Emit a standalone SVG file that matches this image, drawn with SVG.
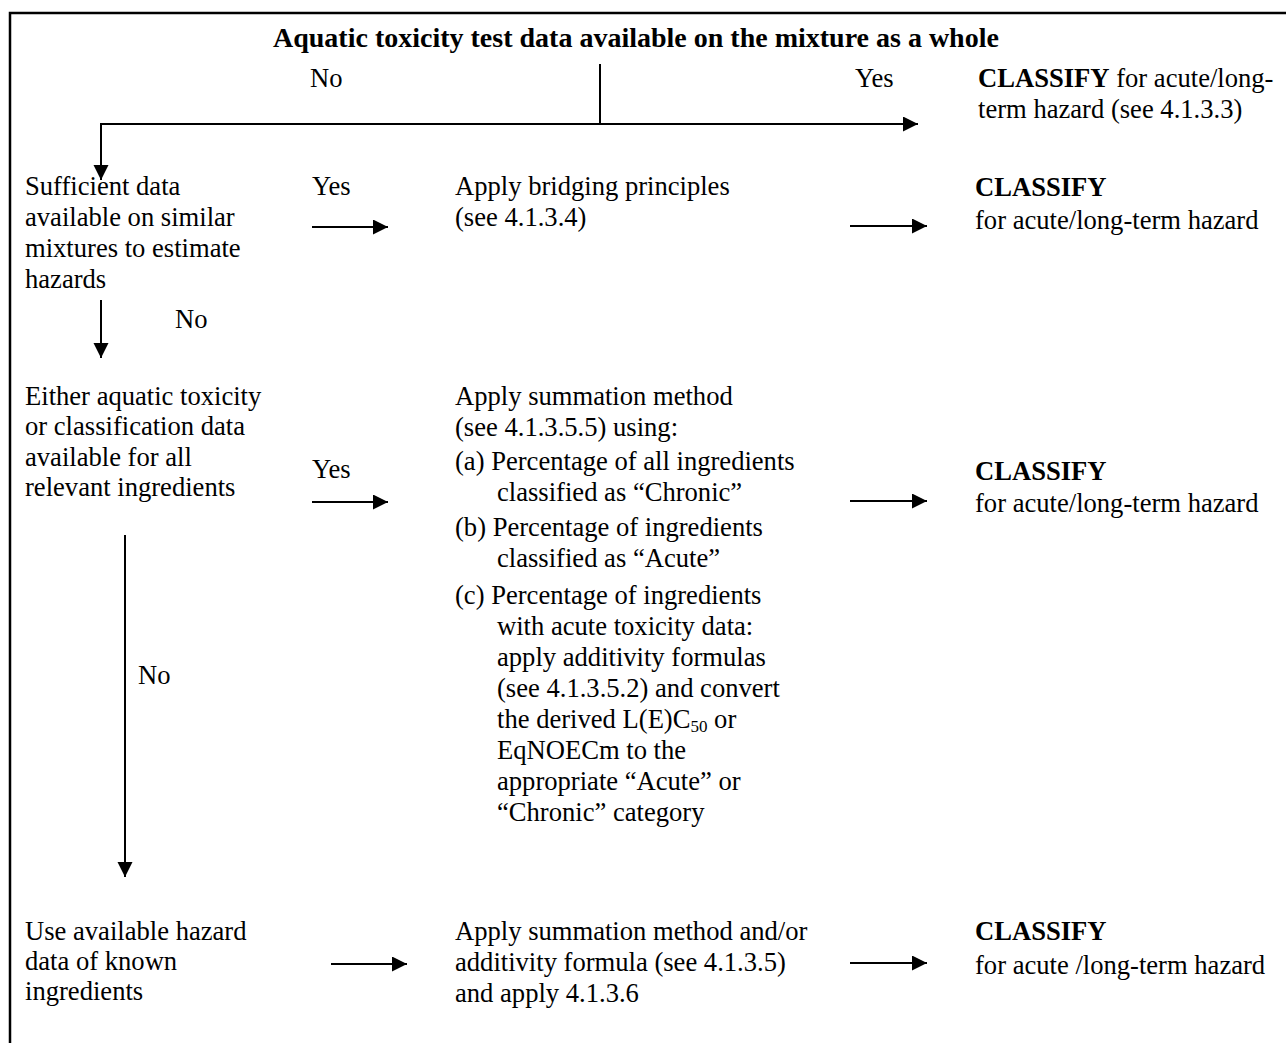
<svg xmlns="http://www.w3.org/2000/svg" width="1286" height="1043" viewBox="0 0 1286 1043">
<style>
text{font-family:"Liberation Serif","Times New Roman",serif;font-size:26.6px;fill:#000}
.b{font-weight:bold}
.t{font-size:28px;font-weight:bold}
.ln{stroke:#000;stroke-width:2;fill:none}
.sub{font-size:17px}
</style>
<defs>
<marker id="ah" markerWidth="16" markerHeight="16" refX="15" refY="7.5" orient="auto" markerUnits="userSpaceOnUse"><path d="M0,0 L15,7.5 L0,15 z" fill="#000"/></marker>
</defs>
<rect x="0" y="0" width="1286" height="1043" fill="#fff"/>
<rect x="10" y="13" width="1320" height="1100" fill="none" stroke="#000" stroke-width="2.5"/>

<g id="n_title"><text class="t" x="273" y="47">Aquatic toxicity test data available on the mixture as a whole</text></g>

<g id="n_classify1"><text x="978" y="87"><tspan class="b">CLASSIFY</tspan> for acute/long-</text><text x="978" y="118">term hazard (see 4.1.3.3)</text></g>

<g id="n_similar"><text x="25" y="195">Sufficient data</text><text x="25" y="226">available on similar</text><text x="25" y="257">mixtures to estimate</text><text x="25" y="288">hazards</text></g>

<g id="n_bridging"><text x="455" y="195">Apply bridging principles</text><text x="455" y="226">(see 4.1.3.4)</text></g>

<g id="n_classify2"><text class="b" x="975" y="196">CLASSIFY</text><text x="975" y="229">for acute/long-term hazard</text></g>

<g id="n_either"><text x="25" y="405">Either aquatic toxicity</text><text x="25" y="435">or classification data</text><text x="25" y="466">available for all</text><text x="25" y="496">relevant ingredients</text></g>

<g id="n_summation"><text x="455" y="405">Apply summation method</text><text x="455" y="436">(see 4.1.3.5.5) using:</text><text x="455" y="470">(a) Percentage of all ingredients</text><text x="497" y="501">classified as “Chronic”</text><text x="455" y="536">(b) Percentage of ingredients</text><text x="497" y="567">classified as “Acute”</text><text x="455" y="604">(c) Percentage of ingredients</text><text x="497" y="635">with acute toxicity data:</text><text x="497" y="666">apply additivity formulas</text><text x="497" y="697">(see 4.1.3.5.2) and convert</text><text x="497" y="728">the derived L(E)C<tspan class="sub" dy="4">50</tspan><tspan dy="-4"> or</tspan></text><text x="497" y="759">EqNOECm to the</text><text x="497" y="790">appropriate “Acute” or</text><text x="497" y="821">“Chronic” category</text></g>

<g id="n_classify3"><text class="b" x="975" y="480">CLASSIFY</text><text x="975" y="512">for acute/long-term hazard</text></g>

<g id="n_use"><text x="25" y="940">Use available hazard</text><text x="25" y="970">data of known</text><text x="25" y="1000">ingredients</text></g>

<g id="n_summation2"><text x="455" y="940">Apply summation method and/or</text><text x="455" y="971">additivity formula (see 4.1.3.5)</text><text x="455" y="1002">and apply 4.1.3.6</text></g>

<g id="n_classify4"><text class="b" x="975" y="940">CLASSIFY</text><text x="975" y="974">for acute /long-term hazard</text></g>

<g id="connectors">
<path class="ln" d="M600,64 V124"/>
<path class="ln" d="M600,124 H918" marker-end="url(#ah)"/>
<path class="ln" d="M601,124 H101 V180" marker-end="url(#ah)"/>
<text x="310" y="87">No</text>
<text x="855" y="87">Yes</text>
<path class="ln" d="M312,227 H388" marker-end="url(#ah)"/>
<text x="312" y="195">Yes</text>
<path class="ln" d="M850,226 H927" marker-end="url(#ah)"/>
<path class="ln" d="M101,300 V358" marker-end="url(#ah)"/>
<text x="175" y="328">No</text>
<path class="ln" d="M312,502 H388" marker-end="url(#ah)"/>
<text x="312" y="478">Yes</text>
<path class="ln" d="M850,501 H927" marker-end="url(#ah)"/>
<path class="ln" d="M125,535 V877" marker-end="url(#ah)"/>
<text x="138" y="684">No</text>
<path class="ln" d="M331,964 H407" marker-end="url(#ah)"/>
<path class="ln" d="M850,963 H927" marker-end="url(#ah)"/>
</g>
</svg>
